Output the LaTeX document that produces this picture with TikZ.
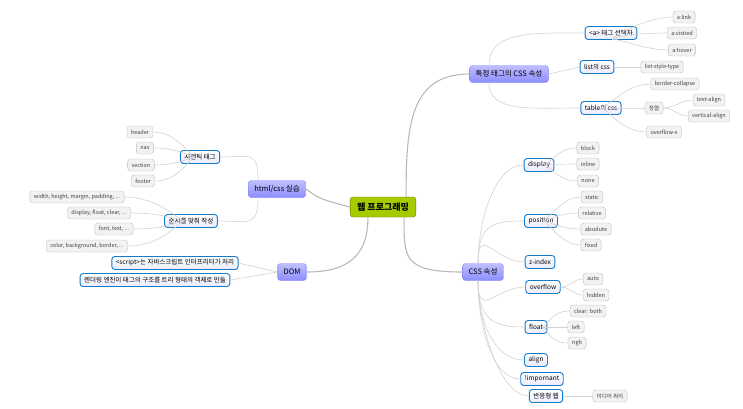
\documentclass[tikz,border=0pt]{standalone}
\usepackage{fontspec}
\setmainfont{Noto Sans CJK KR}
\begin{document}
\begin{tikzpicture}[x=1pt,y=-1pt,
 root/.style={draw=olive!70!black,fill=lime!60!olive,rounded corners=3pt,font=\fontsize{9}{10}\selectfont\bfseries,minimum height=20pt,inner xsep=7pt},
 main/.style={draw=blue!50,top color=blue!25,bottom color=blue!45,rounded corners=3pt,font=\fontsize{7.5}{9}\selectfont,minimum height=17pt,inner xsep=6pt},
 sub/.style={draw=cyan!60!blue,line width=0.9pt,fill=white,top color=white,bottom color=blue!8,rounded corners=3pt,font=\fontsize{6.5}{8}\selectfont,minimum height=13pt,inner xsep=4pt,inner ysep=1pt},
 leaf/.style={draw=gray!50,fill=gray!10,rounded corners=3pt,font=\fontsize{5.5}{7}\selectfont,text=black!75,minimum height=12pt,inner xsep=4pt,inner ysep=1pt},
 br/.style={draw=gray!55,line width=1.1pt},
 ln/.style={draw=gray!35,line width=0.6pt}]
\useasboundingbox (0,0) rectangle (743,408);
\node[root] (r) at (383,207) {웹 프로그래밍};
\node[main] (t) at (509,74) {특정 태그의 CSS 속성};
\node[main] (c) at (483,272) {CSS 속성};
\node[main] (h) at (277,189) {html/css 실습};
\node[main] (d) at (292,272) {DOM};
% level 2
\node[sub] (a) at (611,33) {<a> 태그 선택자};
\node[sub] (li) at (597,67) {list의 css};
\node[sub] (tb) at (601,108) {table의 css};
\node[leaf] (a1) at (684,17) {a:link};
\node[leaf] (a2) at (682,33) {a:vistied};
\node[leaf] (a3) at (682,50) {a:hover};
\node[leaf] (l1) at (662,67) {list-style-type};
\node[leaf] (b1) at (675,84) {border-collapse};
\node[leaf] (b2) at (654,108) {정렬};
\node[leaf] (b3) at (709,100) {text-align};
\node[leaf] (b4) at (709,116) {vertical-align};
\node[leaf] (b5) at (664,132) {overflow-x};
\node[sub] (ds) at (539,165) {display};
\node[leaf] (d1) at (588,148) {block};
\node[leaf] (d2) at (588,164) {inline};
\node[leaf] (d3) at (588,181) {none};
\node[sub] (po) at (541,221) {position};
\node[leaf] (p1) at (592,197) {static};
\node[leaf] (p2) at (592,213) {relative};
\node[leaf] (p3) at (596,229) {absolute};
\node[leaf] (p4) at (591,245) {fixed};
\node[sub] (z) at (540,262) {z-index};
\node[sub] (ov) at (543,287) {overflow};
\node[leaf] (o1) at (593,279) {auto};
\node[leaf] (o2) at (596,295) {hidden};
\node[sub] (fl) at (536,327) {float};
\node[leaf] (f1) at (588,311) {clear: both};
\node[leaf] (f2) at (576,327) {left};
\node[leaf] (f3) at (577,343) {righ};
\node[sub] (al) at (536,360) {align};
\node[sub] (im) at (542,379) {!impornant};
\node[sub] (rw) at (546,396) {반응형 웹};
\node[leaf] (m1) at (610,396) {미디어 쿼리};
\node[sub] (se) at (200,157) {시멘틱 태그};
\node[leaf] (s1) at (140,132) {header};
\node[leaf] (s2) at (145,148) {nav};
\node[leaf] (s3) at (141,165) {section};
\node[leaf] (s4) at (143,181) {footer};
\node[sub] (so) at (191,221) {순서를 맞춰 작성};
\node[leaf] (w1) at (77,197) {width, height, margin, padding, ...};
\node[leaf] (w2) at (99,213) {display, float, clear, ...};
\node[leaf] (w3) at (114,229) {font, text, ...};
\node[leaf] (w4) at (87,246) {color, background, border, ...};
\node[sub] (sc) at (175,263) {<script>는 자바스크립트 인터프리터가 처리};
\node[sub] (re) at (155,280) {렌더링 엔진이 태그의 구조를 트리 형태의 객체로 만듦};
% main branches
\begin{scope}[on background layer/.try]
\draw[br] (r.north east) ++(-10,0) .. controls +(0,-70) and +(-60,0) .. (t.west);
\draw[br] (r.south east) ++(-12,0) .. controls +(0,40) and +(-60,0) .. (c.west);
\draw[br] (r.west) .. controls +(-30,-8) .. (h.east);
\draw[br] (r.south west) ++(18,0) .. controls +(0,40) and +(40,0) .. (d.east);
% level 2 connections
\draw[ln] (t.north) ++(-20,0) .. controls +(0,-35) and +(-50,0) .. (a.west);
\draw[ln] (t.east) -- (li.west);
\draw[ln] (t.south) ++(-20,0) .. controls +(0,30) and +(-50,0) .. (tb.west);
\foreach \n in {a1,a2,a3} \draw[ln] (a.south east) ++(-25,0) .. controls +(0,-4) and +(-25,0) .. (\n.west);
\draw[ln] (li.east) -- (l1.west);
\foreach \n in {b1,b2,b5} \draw[ln] (tb.east) ++(-20,0) .. controls +(5,0) and +(-25,0) .. (\n.west);
\foreach \n in {b3,b4} \draw[ln] (b2.east) to[out=0,in=180] (\n.west);
\foreach \n in {ds,po,z} \draw[ln] (c.north) ++(-5,0) .. controls +(0,-40) and +(-30,0) .. (\n.west);
\foreach \n in {ov,fl,al,im,rw} \draw[ln] (c.south) ++(-5,0) .. controls +(0,40) and +(-30,0) .. (\n.west);
\foreach \n in {d1,d2,d3} \draw[ln] (ds.east) ++(-10,0) .. controls +(5,0) and +(-20,0) .. (\n.west);
\foreach \n in {p1,p2,p3,p4} \draw[ln] (po.east) ++(-15,0) .. controls +(5,0) and +(-20,0) .. (\n.west);
\foreach \n in {o1,o2} \draw[ln] (ov.east) to[out=0,in=180] (\n.west);
\foreach \n in {f1,f2,f3} \draw[ln] (fl.east) ++(-5,0) .. controls +(5,0) and +(-20,0) .. (\n.west);
\draw[ln] (rw.east) -- (m1.west);
\draw[ln] (h.north west) ++(10,0) .. controls +(0,-30) and +(30,0) .. (se.east);
\draw[ln] (h.south west) ++(10,0) .. controls +(0,30) and +(30,0) .. (so.east);
\foreach \n in {s1,s2,s3,s4} \draw[ln] (se.west) ++(15,0) .. controls +(-5,0) and +(25,0) .. (\n.east);
\foreach \n in {w1,w2,w3,w4} \draw[ln] (so.west) ++(20,0) .. controls +(-5,0) and +(35,0) .. (\n.east);
\draw[ln] (d.west) -- (sc.east);
\draw[ln] (d.west) -- (re.east);
\end{scope}
\end{tikzpicture}
\end{document}
